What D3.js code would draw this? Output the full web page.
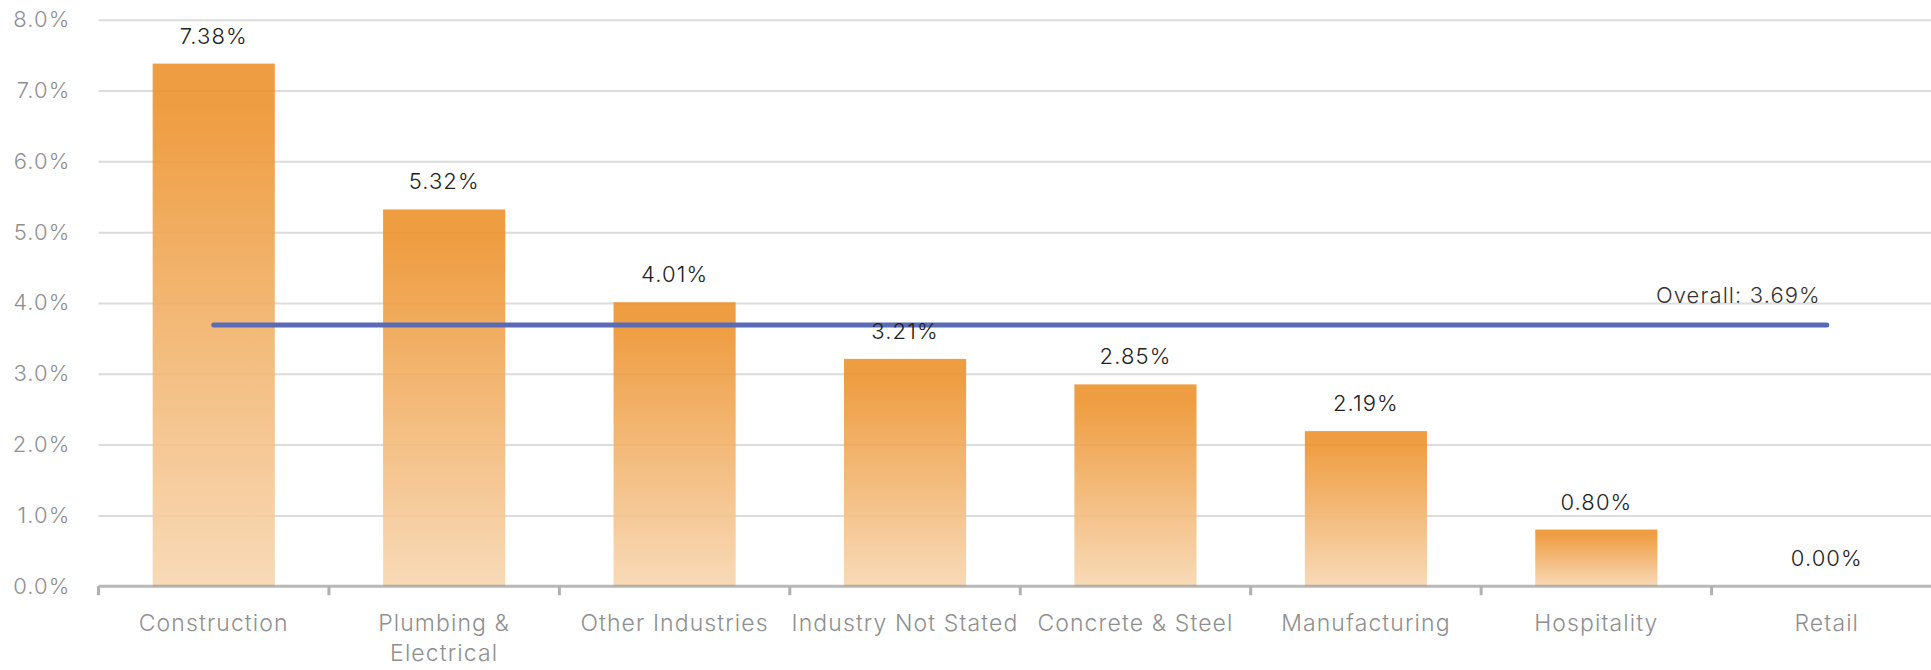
<!DOCTYPE html>
<html>
<head>
<meta charset="utf-8">
<script src="https://cdn.jsdelivr.net/npm/d3@7"></script>
<style>
  html, body { margin: 0; padding: 0; background: #fff; overflow: hidden; }
  svg { display: block; font-family: Inter, "Noto Sans", sans-serif; font-weight: 300; }
</style>
</head>
<body>
<svg id="chart" width="1931" height="670"></svg>
<script>
// Injury rate by industry, with the overall rate as a reference line
const categories = ["Construction", "Plumbing & Electrical", "Other Industries", "Industry Not Stated",
                    "Concrete & Steel", "Manufacturing", "Hospitality", "Retail"];
const rates = [7.38, 5.32, 4.01, 3.21, 2.85, 2.19, 0.80, 0.00];
const overallRate = 3.69;
const yTickValues = [0, 1, 2, 3, 4, 5, 6, 7, 8];

const W = 1931, H = 670;
const plot = { left: 98.5, right: 1942, top: 19.7, bottom: 586.2 };
const FONT = 23, SPACING = 1.1;

const svg = d3.select("#chart");

const x = d3.scaleBand()
  .domain(categories)
  .range([plot.left, plot.right])
  .paddingInner(0.47)
  .paddingOuter(0.235);

const y = d3.scaleLinear()
  .domain([0, 8])
  .range([plot.bottom, plot.top]);

const fmtTick = d => d.toFixed(1) + "%";
const fmtVal = d => d.toFixed(2) + "%";

// Bar fill: strong orange at the top fading to pale peach at the base
const defs = svg.append("defs");
const grad = defs.append("linearGradient")
  .attr("id", "barFill")
  .attr("x1", 0).attr("y1", 0).attr("x2", 0).attr("y2", 1);
grad.append("stop").attr("offset", "0%").attr("stop-color", "#ed922c").attr("stop-opacity", 0.9);
grad.append("stop").attr("offset", "8%").attr("stop-color", "#ed922c").attr("stop-opacity", 0.9);
grad.append("stop").attr("offset", "100%").attr("stop-color", "#f7d6b0").attr("stop-opacity", 0.9);

// Horizontal gridlines
const yAxis = d3.axisLeft(y)
  .tickValues(yTickValues)
  .tickFormat(fmtTick)
  .tickSize(-(W - plot.left))
  .tickPadding(28);

const gy = svg.append("g")
  .attr("transform", `translate(${plot.left},0)`)
  .call(yAxis);
gy.select(".domain").remove();
gy.selectAll(".tick line")
  .attr("stroke", "#dcdcdc")
  .attr("stroke-width", 2);
gy.selectAll(".tick text")
  .attr("fill", "#8f8f8f")
  .attr("font-size", FONT - 1)
  .attr("letter-spacing", SPACING)
  .attr("font-family", "Inter, sans-serif")
  .attr("font-weight", 300);
gy.selectAll(".tick").filter(d => d === 0).select("line").remove();

// Bars
svg.append("g")
  .selectAll("rect")
  .data(categories)
  .join("rect")
  .attr("x", d => x(d))
  .attr("width", x.bandwidth())
  .attr("y", (d, i) => y(rates[i]))
  .attr("height", (d, i) => y(0) - y(rates[i]))
  .attr("fill", "url(#barFill)");

// Category axis: baseline plus ticks at band boundaries
const step = x.step();
const x0 = x.range()[0];
const boundaries = d3.range(categories.length + 1).map(i => x0 + i * step);

const gx = svg.append("g");
gx.append("line")
  .attr("x1", plot.left).attr("x2", W)
  .attr("y1", y(0)).attr("y2", y(0))
  .attr("stroke", "#888").attr("stroke-opacity", 0.6)
  .attr("stroke-width", 3);
gx.selectAll(".bt")
  .data(boundaries)
  .join("line")
  .attr("class", "bt")
  .attr("x1", d => d).attr("x2", d => d)
  .attr("y1", y(0)).attr("y2", y(0) + 9)
  .attr("stroke", "#b0b0b0")
  .attr("stroke-width", 3);

// Category labels, wrapped to the band width
function wrapLabel(textSel, width) {
  textSel.each(function (d) {
    const text = d3.select(this);
    const words = d.split(/\s+/);
    const cx = +text.attr("x");
    const lines = [];
    let line = [];
    const probe = text.append("tspan").attr("x", cx);
    words.forEach(w => {
      line.push(w);
      probe.text(line.join(" "));
      if (probe.node().getComputedTextLength() > width && line.length > 1) {
        line.pop();
        lines.push(line.join(" "));
        line = [w];
      }
    });
    lines.push(line.join(" "));
    probe.remove();
    lines.forEach((l, k) => {
      text.append("tspan")
        .attr("x", cx)
        .attr("dy", k === 0 ? 0 : 30)
        .text(l);
    });
  });
}

svg.append("g")
  .selectAll("text")
  .data(categories)
  .join("text")
  .attr("x", d => x(d) + x.bandwidth() / 2)
  .attr("y", 631)
  .attr("text-anchor", "middle")
  .attr("fill", "#8f8f8f")
  .attr("font-size", FONT)
  .attr("letter-spacing", SPACING)
  .call(wrapLabel, step);

// Overall rate reference line
const firstC = x(categories[0]) + x.bandwidth() / 2;
const lastC = x(categories[categories.length - 1]) + x.bandwidth() / 2;
svg.append("line")
  .attr("x1", firstC).attr("x2", lastC)
  .attr("y1", y(overallRate)).attr("y2", y(overallRate))
  .attr("stroke", "#5a6bb5")
  .attr("stroke-width", 5)
  .attr("stroke-linecap", "round");

svg.append("text")
  .attr("x", lastC - 6)
  .attr("y", y(overallRate) - 22)
  .attr("text-anchor", "end")
  .attr("fill", "#333")
  .attr("font-size", FONT - 1)
  .attr("letter-spacing", SPACING)
  .text("Overall: " + fmtVal(overallRate));

// Value labels above each bar
svg.append("g")
  .selectAll("text")
  .data(categories)
  .join("text")
  .attr("x", d => x(d) + x.bandwidth() / 2)
  .attr("y", (d, i) => y(rates[i]) - 20)
  .attr("text-anchor", "middle")
  .attr("fill", "#222")
  .attr("font-size", FONT - 1)
  .attr("letter-spacing", SPACING)
  .text((d, i) => fmtVal(rates[i]));
</script>
</body>
</html>
